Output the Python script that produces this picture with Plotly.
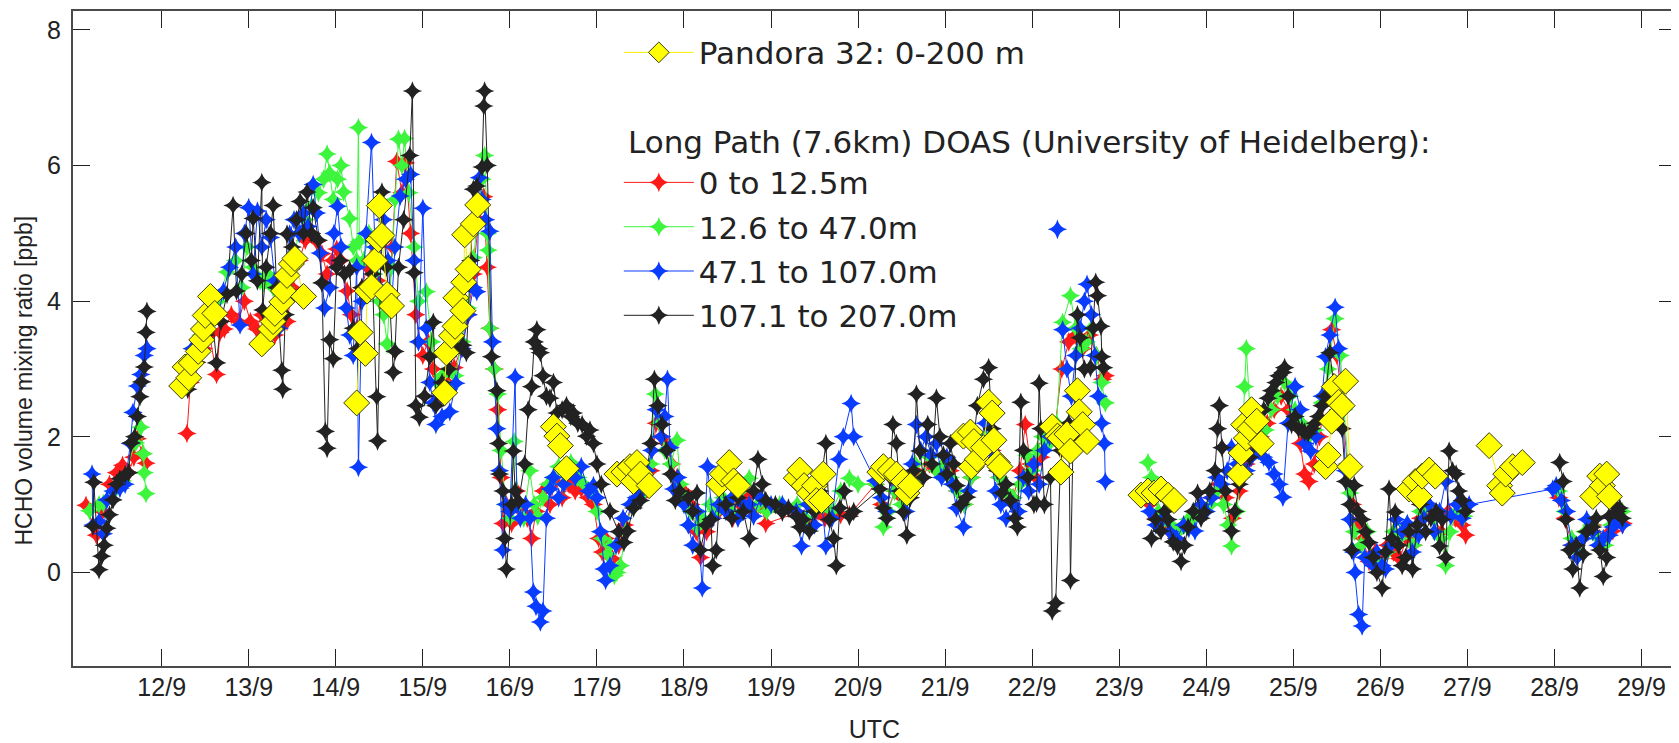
import datetime as dt
import plotly.graph_objects as go

# ---------------- data (day of September 2016, HCHO ppb) ----------------
red_pts = [(11.13,0.99),(11.25,0.55),(11.32,0.90),(11.40,1.30),(11.48,1.47),(11.55,1.58),(11.62,1.47),(11.68,1.70),(11.72,1.97),(11.78,1.75),(11.82,1.61),(None,None),
 (12.29,2.05),(12.33,2.80),(12.40,3.10),(12.48,3.30),(12.55,3.50),(12.63,2.92),(12.67,3.54),(12.72,3.59),(12.80,3.80),(12.88,3.70),(12.95,4.00),(13.02,3.70),(13.09,3.59),(13.15,3.80),(13.22,3.60),(13.30,3.50),(13.38,3.70),(13.44,3.70),(13.50,4.20),(13.58,4.60),(13.65,4.90),(13.72,5.00),(13.78,4.88),(13.84,4.70),(13.90,4.40),(13.96,4.60),(14.01,4.77),(14.06,4.60),(14.13,4.15),(14.18,3.80),(14.24,3.60),(14.30,4.20),(14.36,4.50),(14.42,4.90),(14.48,4.30),(14.54,4.00),(14.60,3.90),(14.65,4.80),(14.70,6.06),(14.76,5.60),(14.80,6.04),(14.86,5.00),(14.92,3.80),(15.00,3.20),(15.06,3.40),(15.12,3.00),(15.20,2.60),(15.28,2.80),(15.36,3.02),(15.44,3.30),(15.52,3.80),(15.58,4.40),(15.64,5.20),(15.70,5.54),(15.74,4.50),(15.77,3.60),(15.82,3.00),(15.86,2.40),(15.90,1.40),(15.92,0.72),(15.96,1.00),(16.02,0.72),(16.08,1.20),(16.14,0.90),(16.20,0.80),(16.25,0.50),(16.30,0.90),(16.38,1.20),(16.46,1.00),(16.52,1.34),(16.60,1.10),(16.68,1.30),(16.75,1.20),(16.82,1.23),(16.90,1.10),(16.96,1.00),
 (17.02,0.50),(17.06,0.30),(17.10,0.50),(17.18,0.20),(17.25,0.40),(17.32,0.70),(17.40,1.00),(17.48,1.10),(17.55,1.30),(17.62,1.50),(17.68,2.20),(17.74,2.00),(17.80,1.90),(17.86,1.60),(17.92,1.40),(18.00,1.20),(18.08,1.00),(18.14,0.60),(18.19,0.22),(18.26,0.60),(18.33,0.80),(18.40,0.90),(18.48,1.00),(18.56,0.80),(18.64,1.00),(18.72,1.11),(18.80,0.90),(18.88,1.00),(18.94,0.72),(19.30,0.88),(19.38,0.80),(19.46,0.70),(19.54,0.90),(19.62,0.80),(19.70,0.90),(19.80,0.85),(19.90,0.85),
 (20.20,1.30),(20.27,1.00),(20.34,0.90),(20.42,1.20),(20.50,1.10),(20.58,1.30),(20.66,1.50),(20.74,1.40),(20.82,1.60),(20.90,1.50),(20.98,1.60),(21.06,1.50),(21.14,1.20),(21.22,1.00),(21.30,1.40),(21.38,1.60),(21.46,1.90),(21.54,1.80),(21.62,1.40),(21.70,1.20),(21.78,1.10),(21.86,1.50),(21.92,2.18),(21.98,1.60),(22.04,1.40),(22.10,1.70),(22.18,1.90),(22.26,2.10),(22.34,3.00),(22.42,3.40),(22.50,3.50),(22.58,3.30),(22.66,3.50),(22.74,3.20),(22.81,2.85),(22.84,2.90),(None,None),
 (23.35,1.00),(23.42,0.80),(23.50,0.70),(23.58,0.60),(23.66,0.50),(23.74,0.70),(23.82,0.80),(23.90,0.90),(23.98,0.90),(24.06,1.10),(24.14,1.30),(24.22,1.10),(24.30,0.80),(24.38,1.20),(24.46,1.60),(24.54,1.80),(24.62,2.00),(24.70,2.20),(24.78,2.40),(24.86,2.60),(24.94,2.40),(25.02,2.20),(25.08,1.90),(25.13,1.45),(25.18,1.34),(25.24,1.60),(25.30,2.00),(25.37,2.60),(25.44,3.58),(25.50,3.20),(25.56,2.50),(25.62,1.60),(25.68,1.00),(25.74,0.70),(25.80,0.50),(25.87,0.16),(25.94,0.30),(26.00,0.20),(26.08,0.40),(26.15,0.30),(26.22,0.20),(26.30,0.50),(26.38,0.40),(26.46,0.80),(26.54,0.90),(26.62,0.80),(26.70,0.60),(26.78,0.90),(26.86,0.80),(26.94,0.70),(26.98,0.55),(None,None),
 (28.05,1.10),(28.12,0.80),(28.20,0.40),(28.28,0.30),(28.36,0.60),(28.44,0.70),(28.52,0.50),(28.60,0.55),(28.67,0.61),(28.73,0.80),(28.79,0.72)]

green_pts = [(11.17,0.91),(11.28,1.00),(11.33,1.02),(11.45,1.19),(11.55,1.35),(11.70,1.91),(11.76,2.14),(11.79,1.75),(11.80,1.47),(11.82,1.16),(None,None),
 (12.35,3.20),(12.45,3.50),(12.55,3.80),(12.65,4.00),(12.75,4.43),(12.85,4.60),(12.92,4.20),(12.98,4.80),(13.05,4.50),(13.09,4.38),(13.13,4.30),(13.17,4.27),(13.22,4.40),(13.28,4.20),(13.35,3.90),(13.42,4.20),(13.50,4.60),(13.58,5.00),(13.65,5.20),(13.72,5.40),(13.80,5.60),(13.86,5.80),(13.90,6.17),(13.93,5.89),(13.97,5.50),(14.02,5.80),(14.06,6.00),(14.09,5.61),(14.16,5.22),(14.20,4.80),(14.24,4.60),(14.26,6.56),(14.27,4.88),(14.32,4.60),(14.38,5.00),(14.44,4.40),(14.50,4.00),(14.55,3.80),(14.59,3.37),(14.64,4.50),(14.68,5.50),(14.72,6.39),(14.76,6.00),(14.79,6.40),(14.84,5.60),(14.90,4.80),(14.95,4.00),(15.04,4.14),(15.10,3.40),(15.16,2.80),(15.22,2.90),(15.30,2.70),(15.37,2.90),(15.45,3.40),(15.52,3.90),(15.58,4.64),(15.64,5.40),(15.68,5.80),(15.71,6.15),(15.74,5.00),(15.75,4.75),(15.77,3.60),(15.82,3.00),(15.86,2.63),(15.90,1.80),(15.95,1.00),(16.00,0.80),(16.05,1.93),(16.10,1.00),(16.16,0.80),(16.23,1.50),(16.28,1.00),(16.32,0.83),(16.38,1.10),(16.44,1.30),(16.50,1.40),(16.56,1.56),(16.62,1.30),(16.70,1.62),(16.78,1.40),(16.85,1.30),(16.92,1.20),
 (17.00,0.90),(17.06,0.50),(17.12,0.27),(17.15,0.40),(17.20,-0.05),(17.23,0.00),(17.27,0.10),(17.33,0.60),(17.40,1.00),(17.48,1.30),(17.55,1.20),(17.62,1.60),(17.67,2.63),(17.72,2.20),(17.78,1.80),(17.85,1.60),(17.92,1.95),(17.96,1.30),(18.02,1.10),(18.08,0.90),(18.15,0.67),(18.22,0.80),(18.30,1.00),(18.38,0.90),(18.45,1.10),(18.55,0.90),(18.65,1.20),(18.75,1.39),(18.85,1.00),(18.95,0.90),(19.10,1.00),(19.30,1.00),(19.40,0.80),(19.50,0.90),(19.60,1.00),(19.70,0.90),(19.80,1.20),(19.90,1.39),(20.00,1.30),
 (20.20,1.30),(20.29,0.67),(20.35,0.90),(20.42,1.20),(20.50,1.00),(20.58,1.30),(20.66,1.60),(20.74,1.40),(20.82,1.70),(20.90,1.50),(20.98,1.60),(21.06,1.40),(21.14,1.20),(21.22,1.00),(21.30,1.40),(21.38,1.70),(21.46,2.00),(21.54,1.90),(21.62,1.40),(21.70,1.20),(21.78,1.10),(21.86,1.30),(21.94,1.73),(22.00,1.50),(22.06,1.80),(22.12,2.00),(22.20,1.90),(22.28,2.20),(22.35,3.69),(22.44,4.08),(22.50,3.60),(22.56,3.30),(22.62,3.40),(22.68,3.60),(22.74,3.20),(22.80,2.80),(22.84,2.50),(None,None),
 (23.33,1.62),(23.37,1.40),(23.45,0.90),(23.52,0.80),(23.60,0.70),(23.68,0.60),(23.75,0.70),(23.79,0.78),(23.86,0.80),(23.92,0.90),(23.98,0.89),(24.05,1.00),(24.12,1.20),(24.20,1.00),(24.25,0.70),(24.29,0.39),(24.35,0.90),(24.40,1.40),(24.44,2.74),(24.46,3.30),(24.52,2.00),(24.60,1.80),(24.68,2.10),(24.75,2.40),(24.82,2.60),(24.90,2.80),(24.96,2.60),(25.02,2.40),(25.10,2.20),(25.18,2.00),(25.25,2.10),(25.33,2.50),(25.40,3.00),(25.48,3.74),(25.54,3.20),(25.58,2.40),(25.62,1.60),(25.65,1.17),(25.70,0.60),(25.78,0.40),(25.85,0.60),(25.92,0.20),(26.00,0.10),(26.08,0.30),(26.15,0.60),(26.22,0.50),(26.30,0.70),(26.38,0.40),(26.46,0.90),(26.54,1.00),(26.62,0.80),(26.70,0.50),(26.75,0.10),(26.80,0.60),(26.88,0.90),(26.96,0.83),(None,None),
 (28.05,1.20),(28.12,0.90),(28.20,0.50),(28.28,0.30),(28.35,0.60),(28.42,0.70),(28.50,0.50),(28.58,0.40),(28.65,0.70),(28.72,0.81),(28.78,0.90)]

blue_pts = [(11.20,1.45),(11.21,0.70),(11.28,0.75),(11.33,0.57),(11.37,1.07),(11.44,1.20),(11.52,1.24),(11.58,1.30),(11.64,1.90),(11.67,2.36),(11.72,2.75),(11.76,2.92),(11.80,3.20),(11.83,3.30),(None,None),
 (12.35,3.30),(12.45,3.60),(12.55,3.90),(12.65,3.80),(12.71,4.15),(12.78,4.50),(12.85,4.80),(12.90,3.65),(12.95,5.00),(13.00,5.38),(13.05,4.40),(13.10,5.33),(13.15,4.80),(13.20,5.20),(13.25,4.94),(13.30,4.30),(13.35,3.60),(13.40,4.00),(13.47,4.99),(13.52,5.20),(13.58,5.00),(13.63,5.30),(13.68,5.10),(13.74,5.72),(13.78,5.30),(13.82,4.71),(13.87,3.90),(13.93,4.20),(13.98,5.00),(14.02,5.40),(14.06,4.80),(14.12,3.90),(14.16,3.50),(14.20,3.20),(14.24,4.50),(14.26,1.55),(14.30,4.00),(14.35,5.00),(14.41,6.34),(14.45,4.80),(14.50,4.20),(14.55,5.20),(14.60,4.60),(14.64,3.90),(14.68,4.80),(14.74,5.55),(14.80,5.80),(14.86,5.87),(14.90,4.60),(14.95,3.40),(15.00,5.37),(15.04,3.60),(15.08,2.80),(15.12,2.50),(15.15,2.18),(15.22,2.30),(15.31,2.37),(15.38,2.79),(15.45,3.30),(15.52,3.80),(15.58,4.20),(15.62,4.14),(15.65,5.82),(15.68,5.50),(15.72,5.20),(15.77,5.03),(15.80,3.40),(15.85,2.12),(15.88,1.50),(15.92,0.33),(15.95,1.00),(16.00,0.90),(16.06,2.88),(16.08,1.00),(16.12,0.80),(16.18,1.00),(16.23,0.80),(16.27,-0.29),(16.30,-0.50),(16.35,-0.73),(16.38,-0.57),(16.42,0.80),(16.46,1.23),(16.50,1.40),(16.56,1.10),(16.62,1.30),(16.68,1.50),(16.75,1.40),(16.82,1.56),(16.90,1.20),(16.96,1.28),
 (17.00,1.10),(17.04,0.60),(17.08,0.05),(17.10,-0.12),(17.15,0.10),(17.22,0.40),(17.30,0.80),(17.38,1.00),(17.45,1.10),(17.52,1.20),(17.58,1.50),(17.63,1.80),(17.68,2.40),(17.74,2.00),(17.78,2.30),(17.81,2.85),(17.84,1.84),(17.88,1.23),(17.93,1.40),(18.00,1.00),(18.05,0.70),(18.10,0.40),(18.15,0.90),(18.21,-0.23),(18.27,1.56),(18.33,0.80),(18.40,1.00),(18.48,0.90),(18.55,1.10),(18.62,0.80),(18.68,1.00),(18.75,1.00),(18.80,0.83),(18.88,1.10),(19.00,1.00),(19.13,1.00),(19.29,0.90),(19.35,0.39),(19.42,1.00),(19.50,0.70),(19.58,1.10),(19.63,0.39),(19.70,0.80),(19.78,1.67),(19.83,2.00),(19.92,2.49),(19.95,2.00),
 (20.20,1.35),(20.27,1.10),(20.33,0.90),(20.40,1.40),(20.48,1.20),(20.55,0.90),(20.62,1.60),(20.67,2.18),(20.72,1.80),(20.78,2.00),(20.84,1.73),(20.90,1.90),(20.96,1.40),(21.02,1.70),(21.08,1.30),(21.13,0.95),(21.21,0.67),(21.27,1.20),(21.33,1.60),(21.40,1.90),(21.46,2.20),(21.52,1.80),(21.58,1.20),(21.64,1.00),(21.70,0.80),(21.78,1.00),(21.84,0.90),(21.90,1.40),(21.96,1.20),(22.02,1.60),(22.08,1.30),(22.14,1.80),(22.20,2.00),(None,None),(22.29,5.06),(None,None),(22.35,3.58),(22.40,3.00),(22.45,2.60),(22.50,3.20),(22.55,3.60),(22.60,4.00),(22.63,4.25),(22.68,3.80),(22.72,3.20),(22.76,2.60),(22.80,2.20),(22.83,1.90),(22.84,1.34),(None,None),
 (23.35,0.90),(23.42,0.70),(23.50,0.80),(23.58,0.60),(23.66,0.50),(23.74,0.70),(23.80,0.65),(23.87,0.61),(23.94,1.00),(24.00,0.90),(24.06,1.10),(24.12,1.40),(24.18,1.30),(24.24,1.50),(24.29,1.84),(24.35,1.60),(24.40,1.67),(24.46,1.50),(24.52,1.70),(24.60,1.80),(24.66,1.70),(24.72,1.62),(24.78,1.45),(24.84,1.30),(24.88,1.11),(24.94,2.20),(25.02,2.74),(25.08,2.40),(25.13,1.90),(25.20,1.79),(25.26,2.00),(25.33,2.60),(25.37,3.18),(25.42,3.50),(25.48,3.91),(25.52,3.30),(25.56,2.50),(25.60,1.50),(25.65,0.78),(25.69,0.30),(25.71,0.00),(25.75,-0.62),(25.79,-0.79),(25.82,0.22),(25.87,0.20),(25.92,0.10),(25.96,0.30),(26.02,0.10),(26.06,0.05),(26.12,0.40),(26.18,0.78),(26.25,0.60),(26.31,0.72),(26.37,0.30),(26.44,0.55),(26.50,0.80),(26.56,1.00),(26.62,0.60),(26.68,0.90),(26.75,1.34),(26.81,0.83),(26.88,1.00),(26.94,0.80),(27.02,1.00),
 (27.98,1.23),(28.02,1.28),(28.08,1.06),(28.14,0.90),(28.20,0.40),(28.26,0.22),(28.33,0.50),(28.37,0.78),(28.44,0.60),(28.50,0.40),(28.56,0.50),(28.63,0.55),(28.67,0.67),(28.72,0.80),(28.78,0.70)]

black_pts = [(11.21,0.68),(11.22,1.33),(11.28,0.04),(11.31,0.24),(11.34,0.40),(11.37,0.65),(11.40,0.85),(11.44,1.07),(11.48,1.30),(11.52,1.38),(11.58,1.44),(11.62,1.47),(11.65,1.91),(11.69,2.00),(11.72,2.30),(11.75,2.59),(11.77,2.81),(11.80,3.03),(11.82,3.54),(11.83,3.85),(None,None),
 (12.30,2.70),(12.40,3.10),(12.50,3.50),(12.58,3.80),(12.63,3.09),(12.68,3.70),(12.75,4.10),(12.82,5.41),(12.86,4.15),(12.92,4.40),(12.97,5.00),(13.03,4.60),(13.05,5.22),(13.10,4.30),(13.15,5.75),(13.16,3.87),(13.20,4.50),(13.25,5.00),(13.28,5.41),(13.32,4.20),(13.38,2.98),(13.39,2.70),(13.42,3.80),(13.44,4.99),(13.50,4.80),(13.55,5.20),(13.59,5.47),(13.63,5.00),(13.67,5.61),(13.72,5.00),(13.74,5.38),(13.80,4.90),(13.84,4.27),(13.88,2.08),(13.90,1.83),(13.93,3.43),(13.97,3.15),(14.01,4.50),(14.05,4.60),(14.10,4.40),(14.16,4.46),(14.20,3.60),(14.25,3.30),(14.30,4.20),(14.36,4.10),(14.42,4.40),(14.47,2.59),(14.48,1.94),(14.53,5.61),(14.58,4.50),(14.62,4.00),(14.66,2.95),(14.68,3.26),(14.72,4.50),(14.78,5.20),(14.85,6.15),(14.88,7.10),(14.90,4.42),(14.92,2.46),(14.96,2.29),(15.02,2.60),(15.08,3.18),(15.12,3.69),(15.15,2.46),(15.22,2.80),(15.30,3.00),(15.38,3.30),(15.46,3.35),(15.50,3.24),(15.55,4.60),(15.58,5.65),(15.62,5.70),(15.68,5.98),(15.70,6.88),(15.71,7.10),(15.74,6.00),(15.79,3.18),(15.85,2.68),(15.87,1.90),(15.88,1.45),(15.92,1.20),(15.94,0.50),(15.96,0.05),(16.02,1.00),(16.04,1.79),(16.06,1.20),(16.10,1.05),(16.17,1.60),(16.21,2.40),(16.25,2.74),(16.28,3.40),(16.31,3.58),(16.33,3.30),(16.35,3.24),(16.38,2.90),(16.42,2.60),(16.46,2.57),(16.50,2.80),(16.54,2.35),(16.60,2.40),(16.65,2.46),(16.70,2.30),(16.73,2.35),(16.78,2.20),(16.83,2.18),(16.88,2.01),(16.92,2.10),(16.96,1.90),
 (17.00,1.60),(17.05,1.30),(17.15,0.90),(17.25,0.60),(17.31,0.44),(17.35,0.61),(17.42,0.95),(17.50,1.06),(17.55,1.30),(17.62,1.90),(17.66,2.85),(17.70,2.46),(17.75,2.18),(17.80,1.80),(17.85,1.45),(17.90,1.06),(17.95,1.20),(18.05,1.10),(18.10,0.90),(18.15,1.17),(18.19,0.33),(18.25,0.70),(18.31,0.78),(18.33,0.10),(18.37,0.33),(18.42,1.34),(18.48,1.00),(18.55,0.80),(18.62,1.10),(18.68,0.90),(18.75,0.50),(18.80,1.20),(18.85,1.67),(18.90,1.30),(18.94,1.06),(19.05,1.00),(19.13,0.89),(19.20,0.95),(19.29,0.83),(19.33,0.67),(19.37,0.78),(19.44,0.61),(19.50,0.90),(19.56,1.20),(19.63,1.90),(19.67,0.78),(19.72,0.50),(19.75,0.10),(19.79,0.95),(19.84,1.20),(19.90,0.83),(19.95,0.90),
 (20.25,1.23),(20.29,0.95),(20.33,0.80),(20.37,1.40),(20.40,2.18),(20.44,1.90),(20.48,1.20),(20.52,0.89),(20.56,0.55),(20.60,1.10),(20.64,1.50),(20.67,2.63),(20.71,1.79),(20.75,1.40),(20.80,2.18),(20.85,1.60),(20.90,2.57),(20.94,2.00),(20.98,1.73),(21.02,1.45),(21.06,1.90),(21.10,1.60),(21.13,1.28),(21.18,1.00),(21.25,1.11),(21.30,1.60),(21.37,2.46),(21.44,2.85),(21.50,3.02),(21.54,2.12),(21.60,1.50),(21.65,1.17),(21.70,1.30),(21.75,1.06),(21.80,0.80),(21.83,0.67),(21.87,2.51),(21.90,1.80),(21.95,1.40),(22.02,1.00),(22.05,1.02),(22.08,2.79),(22.10,2.12),(22.14,1.00),(22.21,1.40),(22.23,-0.57),(22.27,-0.45),(22.33,1.80),(22.42,2.20),(22.44,-0.12),(22.47,2.00),(22.52,3.80),(22.55,3.46),(22.60,3.00),(22.67,3.02),(22.70,3.60),(22.73,4.28),(22.75,4.08),(22.79,3.63),(22.80,3.18),(22.82,3.02),(None,None),
 (23.37,0.50),(23.42,0.78),(23.48,0.61),(23.52,0.90),(23.56,0.78),(23.62,0.45),(23.67,0.39),(23.71,0.16),(23.75,0.40),(23.79,0.67),(23.85,0.90),(23.90,1.17),(23.94,0.80),(23.98,0.89),(24.04,1.20),(24.10,1.50),(24.13,2.12),(24.15,2.46),(24.18,1.84),(24.22,1.20),(24.29,0.61),(24.33,0.90),(24.38,1.30),(24.44,1.45),(24.50,1.70),(24.55,1.90),(24.60,2.20),(24.66,2.40),(24.71,2.57),(24.75,2.68),(24.80,2.80),(24.83,2.90),(24.88,2.95),(24.90,3.02),(24.94,2.60),(24.98,2.18),(25.02,2.30),(25.06,2.12),(25.10,2.10),(25.13,2.07),(25.17,2.05),(25.21,2.12),(25.25,2.20),(25.29,2.30),(25.33,2.46),(25.37,2.60),(25.42,3.24),(25.46,2.80),(25.52,2.40),(25.56,2.12),(25.60,1.34),(25.65,1.00),(25.67,0.33),(25.70,1.28),(25.74,0.90),(25.79,0.78),(25.83,0.60),(25.87,0.44),(25.92,0.22),(25.96,0.00),(26.02,-0.23),(26.06,0.30),(26.10,1.23),(26.13,0.50),(26.17,0.89),(26.21,0.40),(26.25,0.10),(26.29,0.22),(26.33,0.60),(26.37,0.05),(26.42,0.70),(26.46,1.00),(26.52,0.60),(26.58,0.80),(26.64,0.90),(26.68,0.39),(26.71,0.78),(26.75,0.22),(26.79,1.79),(26.83,1.50),(26.87,1.45),(26.90,1.20),(26.94,1.06),(26.98,0.90),(None,None),
 (28.06,1.62),(28.10,1.34),(28.13,0.78),(28.17,0.33),(28.21,0.05),(28.25,0.40),(28.29,-0.23),(28.33,0.27),(28.37,0.60),(28.44,0.67),(28.48,0.80),(28.52,0.33),(28.56,-0.06),(28.60,0.22),(28.63,0.83),(28.68,1.00),(28.72,0.90),(28.75,0.95),(28.78,0.80)]

pandora_pts = [(12.23,2.75),(12.27,3.03),(12.31,2.87),(12.34,3.09),(12.42,3.26),(12.46,3.43),(12.48,3.59),(12.50,3.79),(12.56,4.07),(12.61,3.82),(None,None),
 (13.15,3.37),(13.25,3.59),(13.28,3.70),(13.30,3.82),(13.38,3.99),(13.40,4.15),(13.44,4.38),(13.49,4.55),(13.53,4.63),(13.63,4.07),(None,None),
 (14.24,2.50),(14.28,3.54),(14.34,3.23),(14.36,4.15),(14.41,4.21),(14.45,4.60),(14.49,4.91),(14.50,5.41),(14.53,4.97),(14.59,4.10),(14.64,3.93),(None,None),
 (15.25,2.65),(15.27,3.24),(15.33,3.49),(15.37,3.63),(15.38,4.05),(15.46,3.86),(15.47,4.28),(15.48,4.98),(15.52,4.47),(15.58,5.14),(15.63,5.42),(None,None),
 (16.50,2.15),(16.54,2.01),(16.58,1.87),(16.65,1.53),(None,None),
 (17.23,1.45),(17.31,1.48),(17.38,1.56),(17.42,1.34),(17.46,1.62),(17.50,1.45),(17.60,1.28),(None,None),
 (18.40,1.30),(18.44,1.45),(18.52,1.62),(18.57,1.35),(18.62,1.28),(None,None),
 (19.29,1.39),(19.33,1.51),(19.38,1.28),(19.44,1.17),(19.50,1.28),(19.52,1.06),(19.58,1.06),(19.60,1.45),(None,None),
 (20.25,1.48),(20.29,1.56),(20.37,1.51),(20.44,1.45),(20.52,1.34),(20.56,1.17),(20.60,1.28),(None,None),
 (21.21,2.01),(21.29,2.07),(21.30,1.56),(21.33,1.93),(21.37,1.67),(21.44,1.84),(21.50,2.51),(21.54,2.35),(21.56,1.95),(21.60,1.62),(21.63,1.56),(None,None),
 (22.23,2.15),(22.29,2.01),(22.32,1.98),(22.33,1.48),(22.40,2.04),(22.44,1.79),(22.52,2.68),(22.54,2.37),(22.58,2.18),(22.63,1.93),(None,None),
 (23.25,1.14),(23.33,1.20),(23.40,1.17),(23.48,1.23),(23.56,1.14),(23.63,1.06),(None,None),
 (24.38,1.45),(24.40,1.76),(24.43,2.18),(24.46,1.98),(24.50,2.12),(24.52,2.40),(24.58,2.23),(24.63,1.90),(None,None),
 (25.37,1.56),(25.40,1.73),(25.44,2.23),(25.47,2.74),(25.52,2.51),(25.56,2.46),(25.60,2.82),(25.65,1.56),(None,None),
 (26.33,1.23),(26.40,1.34),(26.45,1.12),(26.48,1.42),(26.56,1.51),(26.63,1.42),(None,None),
 (27.25,1.87),(27.37,1.28),(27.40,1.17),(27.44,1.45),(27.52,1.56),(27.63,1.62),(None,None),
 (28.44,1.12),(28.52,1.42),(28.55,1.28),(28.60,1.45),(28.63,1.12)]

series_names = ["0 to 12.5m", "12.6 to 47.0m", "47.1 to 107.0m", "107.1 to 207.0m"]
series_colors = ["#ff1a1a", "#3cf53c", "#0a3cff", "#222222"]
pandora_name = "Pandora 32: 0-200 m"
lp_title = "Long Path (7.6km) DOAS (University of Heidelberg):"
y_title = "HCHO volume mixing ratio [ppb]"
tick_days = list(range(12, 30))
tick_labels = [f"{d}/9" for d in tick_days]

BASE = dt.datetime(2016, 9, 1)


def to_time(day):
    return None if day is None else BASE + dt.timedelta(days=day - 1)


def split(pts):
    return [to_time(p[0]) for p in pts], [p[1] for p in pts]


fig = go.Figure()
for pts, name, col in zip([red_pts, green_pts, blue_pts, black_pts], series_names, series_colors):
    x, y = split(pts)
    fig.add_trace(go.Scatter(
        x=x, y=y, mode="lines+markers", name=name, legend="legend2", legendgroup=name,
        line=dict(color=col, width=1),
        marker=dict(symbol="star-diamond", size=14, color=col, line=dict(width=0)),
        connectgaps=False))

px_, py_ = split(pandora_pts)
fig.add_trace(go.Scatter(
    x=px_, y=py_, mode="lines+markers", name=pandora_name, legend="legend",
    line=dict(color="#f5f000", width=1),
    marker=dict(symbol="diamond", size=20, color="#ffff00", line=dict(color="#3a3a10", width=1)),
    connectgaps=False))

axis_common = dict(showline=True, linecolor="#4a4a4a", linewidth=2, mirror="ticks",
                   ticks="inside", ticklen=17, tickwidth=1, tickcolor="#222222",
                   showgrid=False, zeroline=False)

LEG_FONT = dict(family="DejaVu Sans, sans-serif", size=31, color="#222222")

# page body has an 8px margin: figure sized / margined so the plot sits where the original is
fig.update_layout(
    width=1671, height=735,
    margin=dict(l=65, r=3, t=1, b=77),
    paper_bgcolor="white", plot_bgcolor="white",
    font=dict(family="Liberation Sans, Arial, sans-serif", color="#222222"),
    xaxis=dict(**axis_common, type="date",
               range=[to_time(10.981), to_time(29.396)],
               tickvals=[to_time(d) for d in tick_days], ticktext=tick_labels,
               tickfont=dict(size=25), ticklabelstandoff=-2,
               title=dict(text="UTC", font=dict(size=25), standoff=21)),
    yaxis=dict(**axis_common, range=[-1.38, 8.28], tickvals=[0, 2, 4, 6, 8],
               tickfont=dict(size=25), ticklabelstandoff=5),
    legend=dict(x=0.3405, y=0.9775, xanchor="left", yanchor="top", bgcolor="rgba(0,0,0,0)",
                font=LEG_FONT, itemwidth=70),
    legend2=dict(x=0.3405, y=0.779, xanchor="left", yanchor="top", bgcolor="rgba(0,0,0,0)",
                 font=LEG_FONT, tracegroupgap=1, itemwidth=70),
    annotations=[
        dict(text=lp_title, xref="paper", yref="paper", x=0.345, y=0.8006,
             xanchor="left", yanchor="middle", showarrow=False, font=LEG_FONT),
        dict(text=y_title, xref="paper", yref="paper", x=-0.0305, y=0.436,
             xanchor="center", yanchor="middle", textangle=-90, showarrow=False,
             font=dict(size=23, color="#222222")),
    ],
    showlegend=True,
)

fig.write_html("out.html")
